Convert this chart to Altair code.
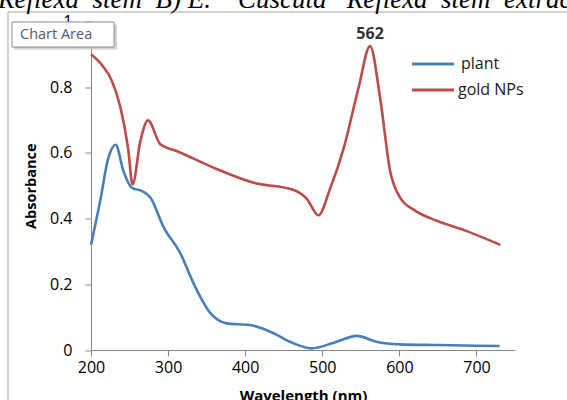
import altair as alt
import pandas as pd

plant_wl = [200, 212, 222, 232, 242, 253, 266, 277, 294, 316, 333, 355, 376, 406, 437, 458, 486, 515, 545, 570, 600, 650, 700, 730]
plant_abs = [0.32, 0.455, 0.58, 0.625, 0.545, 0.494, 0.484, 0.464, 0.375, 0.294, 0.203, 0.112, 0.081, 0.076, 0.051, 0.025, 0.005, 0.022, 0.043, 0.025, 0.017, 0.015, 0.013, 0.012]

gold_wl = [200, 215, 227, 238, 248, 254, 264, 274, 290, 311, 359, 411, 463, 480, 495, 510, 528, 547, 562, 575, 588, 601, 620, 649, 684, 731]
gold_abs = [0.9, 0.865, 0.82, 0.74, 0.616, 0.504, 0.636, 0.699, 0.626, 0.606, 0.555, 0.509, 0.487, 0.46, 0.41, 0.49, 0.616, 0.798, 0.925, 0.768, 0.545, 0.464, 0.425, 0.393, 0.365, 0.32]

series_names = ["plant", "gold NPs"]
series_colors = ["#4a7ebb", "#be4b48"]

peak_wl = [562]
peak_abs = [0.925]
peak_label = ["562"]

x_ticks = [200, 300, 400, 500, 600, 700]
y_ticks = [0, 0.2, 0.4, 0.6, 0.8, 1]

NB = "\u00a0"
page_title = ("Reflexa" + NB * 2 + "stem" + NB * 2 + "B)" + NB + "E." + NB * 4 +
              "Cuscuta" + NB * 3 + "Reflexa" + NB * 2 + "stem" + NB * 2 + "extract")

rows = [{"wl": w, "abs": a, "series": "plant"} for w, a in zip(plant_wl, plant_abs)]
rows += [{"wl": w, "abs": a, "series": "gold NPs"} for w, a in zip(gold_wl, gold_abs)]
df = pd.DataFrame(rows)

peak_df = pd.DataFrame({"wl": peak_wl, "abs": peak_abs, "label": peak_label})

FONT = "Open Sans"
AXIS_COLOR = "#868686"

x_enc = alt.X("wl:Q", scale=alt.Scale(domain=[200, 750], nice=False, zero=False),
              axis=alt.Axis(values=x_ticks, title="Wavelength (nm)", grid=False,
                            domainColor=AXIS_COLOR, tickColor=AXIS_COLOR, tickSize=6,
                            labelFontSize=16, labelColor="#000000", labelFont=FONT,
                            labelPadding=3, labelFlush=False, titleFont=FONT, titleFontSize=15,
                            titleFontWeight="bold", titleColor="#000000", titlePadding=13))
y_enc = alt.Y("abs:Q", scale=alt.Scale(domain=[0, 1], nice=False),
              axis=alt.Axis(values=y_ticks, title="Absorbance", grid=False,
                            domainColor=AXIS_COLOR, tickColor=AXIS_COLOR, tickSize=6,
                            labelFontSize=16, labelColor="#000000", labelFont=FONT,
                            labelPadding=13, labelFlush=False,
                            labelExpr="datum.value == 0 ? '0' : format(datum.value, '.1~f')",
                            titleFont=FONT, titleFontSize=14.5, titleFontWeight="bold",
                            titleColor="#000000", titlePadding=11))

lines = alt.Chart(df).mark_line(strokeWidth=2.6, interpolate="monotone").encode(
    x=x_enc,
    y=y_enc,
    color=alt.Color("series:N",
                    scale=alt.Scale(domain=series_names, range=series_colors),
                    sort=series_names, legend=None),
    detail="series:N",
)

peak_text = alt.Chart(peak_df).mark_text(fontSize=16, font=FONT, fontWeight="bold",
                                         color="#333333", dy=-12).encode(
    x="wl:Q", y="abs:Q", text="label:N")

# legend (drawn by hand to match the row spacing)
legend_layers = []
for i, (name, col) in enumerate(zip(series_names, series_colors)):
    ly = 42.5 + 26 * i
    legend_layers.append(
        alt.Chart(peak_df).mark_rule(color=col, strokeWidth=3).encode(
            x=alt.value(321), x2=alt.value(363), y=alt.value(ly)))
    legend_layers.append(
        alt.Chart(peak_df).mark_text(text=name, fontSize=16, font=FONT, color="#1a1a1a",
                                     align="left", baseline="middle").encode(
            x=alt.value(370 if i == 0 else 367), y=alt.value(ly)))

# chart-area border (decoration)
border_v = alt.Chart(peak_df).mark_rule(color="#a6a6a6", strokeWidth=1).encode(
    x=alt.value(-83), y=alt.value(-9.5), y2=alt.value(400))
border_h = alt.Chart(peak_df).mark_rule(color="#a6a6a6", strokeWidth=1).encode(
    x=alt.value(-83), x2=alt.value(500), y=alt.value(-9.5))

# "Chart Area" tooltip box
shadow = alt.Chart(peak_df).mark_rect(color="#bdbdbd", opacity=0.7).encode(
    x=alt.value(-77), x2=alt.value(26), y=alt.value(3), y2=alt.value(28))
box = alt.Chart(peak_df).mark_rect(fill="white", stroke="#8c8c8c", strokeWidth=1).encode(
    x=alt.value(-79), x2=alt.value(23), y=alt.value(0.5), y2=alt.value(25.5))
box_text = alt.Chart(peak_df).mark_text(text="Chart Area", fontSize=14.5, font=FONT,
                                        color="#4f5b73", align="left", baseline="middle").encode(
    x=alt.value(-71), y=alt.value(13))

title_text = alt.Chart(peak_df).mark_text(text=page_title, fontSize=27, font="Liberation Serif",
                                          fontStyle="italic", color="#000000", align="left",
                                          baseline="alphabetic").encode(
    x=alt.value(-93), y=alt.value(-13.5))

chart = alt.layer(border_v, border_h, lines, peak_text, *legend_layers,
                  shadow, box, box_text, title_text).properties(
    width=424, height=328.5,
    padding={"left": 91, "top": 21.5, "right": 52, "bottom": 50},
    autosize=alt.AutoSizeParams(type="none"),
    background="white",
).configure_view(stroke=None)

chart.save("out.html", embed_options={"renderer": "svg", "actions": False})
